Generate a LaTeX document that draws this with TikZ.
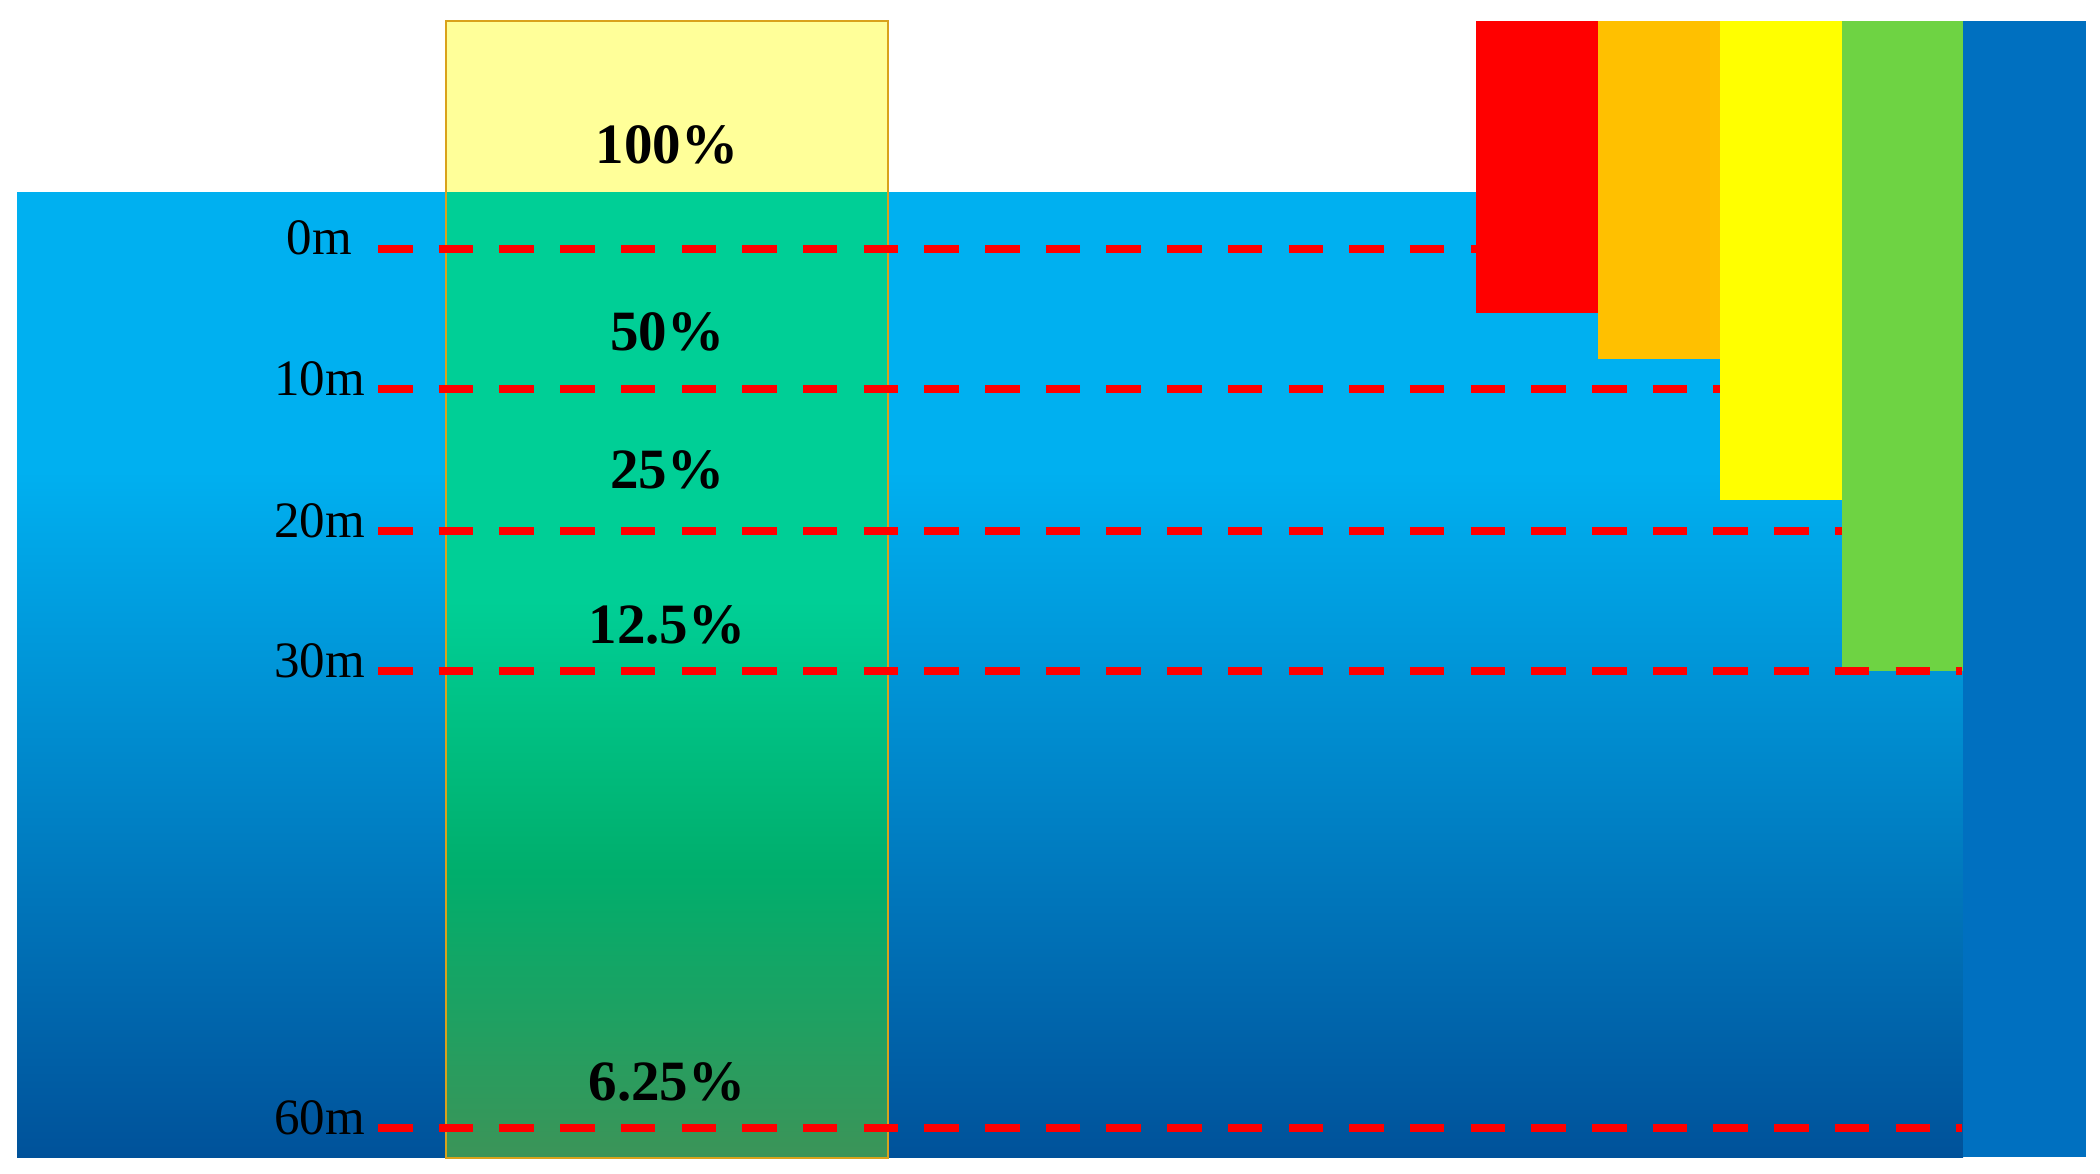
\documentclass[tikz,border=0pt]{standalone}
\usepackage{fontspec}
\setmainfont{Liberation Serif}
\definecolor{waterTop}{HTML}{00B0F0}
\definecolor{waterBot}{HTML}{00529A}
\definecolor{boxYellow}{HTML}{FFFF99}
\definecolor{boxGreenTop}{HTML}{00CF96}
\definecolor{boxGreenMid}{HTML}{00AE6C}
\definecolor{boxGreenBot}{HTML}{3C9458}
\definecolor{boxEdge}{HTML}{D9A21B}
\definecolor{barRed}{HTML}{FF0000}
\definecolor{barOrange}{HTML}{FFC000}
\definecolor{barYellow}{HTML}{FFFF00}
\definecolor{barGreen}{HTML}{6ED343}
\definecolor{sideBlue}{HTML}{0070C0}
\pgfdeclareverticalshading{watershade}{100bp}{color(0bp)=(waterBot); color(25bp)=(waterBot); color(60.6bp)=(waterTop); color(100bp)=(waterTop)}
\pgfdeclareverticalshading{greenshade}{100bp}{color(0bp)=(boxGreenBot); color(25bp)=(boxGreenBot); color(39.8bp)=(boxGreenMid); color(53.9bp)=(boxGreenTop); color(100bp)=(boxGreenTop)}
\begin{document}
\begin{tikzpicture}[x=1pt,y=-1pt,
  depthdash/.style={draw=barRed, line width=8.3pt, dash pattern=on 34.5pt off 26.2pt},
  depthlabel/.style={anchor=base east, inner sep=0pt, font=\fontsize{51}{51}\selectfont},
  pctlabel/.style={anchor=base, inner sep=0pt, font=\bfseries\fontsize{57}{57}\selectfont}]
\useasboundingbox (0,0) rectangle (2100,1173);
\fill[white] (0,0) rectangle (2100,1173);
% water
\shade[shading=watershade] (17,192.7) rectangle (1963,1157);
% side column
\fill[sideBlue] (1962.5,20.7) rectangle (2086,1157);
% light box
\fill[boxYellow] (446,20.7) rectangle (888,192.7);
\shade[shading=greenshade] (446,192.7) rectangle (888,1158);
\draw[boxEdge, line width=2pt] (446,20.7) rectangle (888,1158);
% colour bars
\fill[barRed] (1476,20.7) rectangle (1598,313);
\fill[barOrange] (1598,20.7) rectangle (1720,359);
\fill[barYellow] (1720,20.7) rectangle (1841.5,500);
\fill[barGreen] (1841.5,20.7) rectangle (1962.5,670.7);
% depth lines
\coordinate (d0s) at (378,249);   \coordinate (d0e) at (1476,249);
\coordinate (d10s) at (378,389);  \coordinate (d10e) at (1720,389);
\coordinate (d20s) at (378,530.7); \coordinate (d20e) at (1841.5,530.7);
\coordinate (d30s) at (378,670.7); \coordinate (d30e) at (1962,670.7);
\coordinate (d60s) at (378,1128); \coordinate (d60e) at (1962,1128);
\draw[depthdash] (d0s) -- (d0e);
\draw[depthdash] (d10s) -- (d10e);
\draw[depthdash] (d20s) -- (d20e);
\draw[depthdash] (d30s) -- (d30e);
\draw[depthdash] (d60s) -- (d60e);
% depth labels
\node[depthlabel] (l0) at (352,254) {0m};
\node[depthlabel] (l10) at (365,395) {10m};
\node[depthlabel] (l20) at (365,537) {20m};
\node[depthlabel] (l30) at (365,677) {30m};
\node[depthlabel] (l60) at (365,1134) {60m};
% percentages
\node[pctlabel] (p100) at (667,163) {100\%};
\node[pctlabel] (p50) at (667,350) {50\%};
\node[pctlabel] (p25) at (667,488) {25\%};
\node[pctlabel] (p12) at (667,643) {12.5\%};
\node[pctlabel] (p6) at (667,1100) {6.25\%};
\end{tikzpicture}
\end{document}
